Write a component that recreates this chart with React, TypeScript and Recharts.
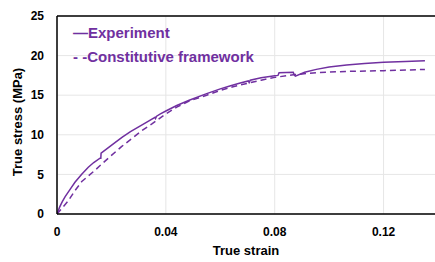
import React from "react";
import { LineChart, Line, XAxis, YAxis, CartesianGrid, ReferenceLine } from "recharts";

const expStrain = [0, 0.001, 0.002, 0.003, 0.005, 0.0066, 0.009, 0.0115, 0.0135, 0.0158, 0.0161, 0.0162, 0.019, 0.0213, 0.024, 0.027, 0.030, 0.033, 0.036, 0.0362, 0.0366, 0.038, 0.04, 0.044, 0.0488, 0.055, 0.06, 0.0635, 0.067, 0.0703, 0.0706, 0.071, 0.075, 0.08, 0.0812, 0.0816, 0.0868, 0.0872, 0.0876, 0.091, 0.0953, 0.1, 0.1064, 0.113, 0.12, 0.128, 0.1352];
const expStress = [0, 0.9, 1.6, 2.2, 3.2, 4.0, 5.0, 5.9, 6.5, 7.05, 7.05, 7.67, 8.4, 9.0, 9.7, 10.4, 11.0, 11.6, 12.2, 12.05, 12.35, 12.65, 13.0, 13.7, 14.4, 15.2, 15.8, 16.15, 16.5, 16.8, 16.6, 16.9, 17.2, 17.45, 17.5, 17.85, 17.9, 17.55, 17.4, 17.9, 18.26, 18.55, 18.8, 19.0, 19.15, 19.27, 19.35];

const modelStrain = [0, 0.002, 0.004, 0.0065, 0.0091, 0.0115, 0.0139, 0.0164, 0.02, 0.0237, 0.027, 0.0311, 0.035, 0.0396, 0.044, 0.0488, 0.055, 0.06, 0.065, 0.07, 0.075, 0.08, 0.0874, 0.0953, 0.106, 0.12, 0.1352];
const modelStress = [0, 0.8, 1.6, 2.9, 4.1, 4.8, 5.5, 6.3, 7.4, 8.5, 9.4, 10.5, 11.4, 12.55, 13.5, 14.3, 15.0, 15.6, 16.1, 16.5, 16.9, 17.25, 17.6, 17.85, 18.0, 18.1, 18.25];

const xTicks = [0, 0.04, 0.08, 0.12];
const yTicks = [0, 5, 10, 15, 20, 25];

const seriesNames = ["Experiment", "Constitutive framework"];

const expData = expStrain.map((x, i) => ({ x, y: expStress[i] }));
const modelData = modelStrain.map((x, i) => ({ x, y: modelStress[i] }));

const PURPLE = "#7030A0";
const FONT = "'Liberation Sans', Arial, sans-serif";

export default function App() {
  return (
    <div style={{ position: "absolute", left: 0, top: 0, width: 435, height: 262, overflow: "hidden", background: "#fff" }}>
      <LineChart width={440} height={262} margin={{ top: 16, right: 2, left: 0, bottom: 0 }}>
        <CartesianGrid stroke="#e6e6e6" strokeWidth={1} />
        <XAxis
          type="number"
          dataKey="x"
          domain={[0, 0.14]}
          ticks={xTicks}
          tickFormatter={(v: number) => (v === 0 ? "0" : String(v))}
          height={48}
          tickLine={false}
          tickSize={0}
          tickMargin={13}
          axisLine={{ stroke: "#000", strokeWidth: 1.5 }}
          tick={{ fill: "#000", fontSize: 12, fontWeight: 700, fontFamily: FONT }}
          allowDataOverflow
        />
        <YAxis
          type="number"
          dataKey="y"
          domain={[0, 25]}
          ticks={yTicks}
          width={57}
          tickLine={false}
          tickSize={0}
          tickMargin={13}
          axisLine={{ stroke: "#000", strokeWidth: 1.5 }}
          tick={{ fill: "#000", fontSize: 12, fontWeight: 700, fontFamily: FONT }}
        />
        <ReferenceLine y={25} stroke="#000" strokeWidth={1.5} />
        <Line
          data={modelData}
          dataKey="y"
          name={seriesNames[1]}
          stroke={PURPLE}
          strokeWidth={1.5}
          strokeDasharray="6 4"
          dot={false}
          activeDot={false}
          isAnimationActive={false}
          type="linear"
        />
        <Line
          data={expData}
          dataKey="y"
          name={seriesNames[0]}
          stroke={PURPLE}
          strokeWidth={1.5}
          dot={false}
          activeDot={false}
          isAnimationActive={false}
          type="linear"
        />
        <text x={73} y={38} fill={PURPLE} fontSize={15} fontWeight={700} fontFamily={FONT}>
          {"\u2014" + seriesNames[0]}
        </text>
        <text x={73} y={62} fill={PURPLE} fontSize={15} fontWeight={700} fontFamily={FONT}>
          {"- -" + seriesNames[1]}
        </text>
        <text x={246} y={254.5} textAnchor="middle" fill="#000" fontSize={13} fontWeight={700} fontFamily={FONT}>
          True strain
        </text>
        <text transform="translate(22,122) rotate(-90)" textAnchor="middle" fill="#000" fontSize={13} fontWeight={700} fontFamily={FONT}>
          True stress (MPa)
        </text>
      </LineChart>
    </div>
  );
}
